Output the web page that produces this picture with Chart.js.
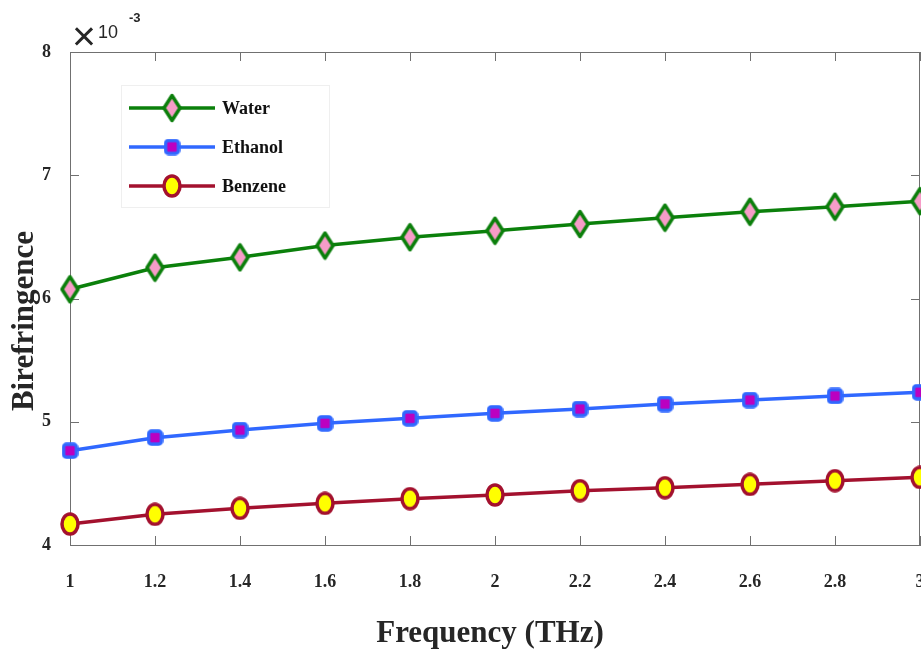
<!DOCTYPE html>
<html>
<head>
<meta charset="utf-8">
<script src="https://cdn.jsdelivr.net/npm/chart.js@4"></script>
<style>
    html, body { margin: 0; padding: 0; background: #fff; }
    #wrap { width: 921px; height: 651px; }
</style>
</head>
<body>
<div id="wrap"><canvas id="birefChart"></canvas></div>
<script>
// Birefringence values (x 10^-3) against frequency in THz
const frequency = [1, 1.2, 1.4, 1.6, 1.8, 2, 2.2, 2.4, 2.6, 2.8, 3];
const water   = [6.075, 6.25, 6.334, 6.43, 6.497, 6.55, 6.604, 6.656, 6.704, 6.745, 6.79];
const ethanol = [4.765, 4.871, 4.933, 4.987, 5.028, 5.068, 5.103, 5.144, 5.176, 5.209, 5.239];
const benzene = [4.17, 4.249, 4.298, 4.338, 4.376, 4.406, 4.441, 4.465, 4.492, 4.522, 4.549];
const seriesNames = ['Water', 'Ethanol', 'Benzene'];
const yTicks = [4, 5, 6, 7, 8];

const SERIF = '"Liberation Serif", "Times New Roman", serif';
const SANS = '"Liberation Sans", Arial, sans-serif';
const AXIS_GREY = '#707070';

// Small canvases used as point markers
function makeMarker(w, h, draw) {
    const c = document.createElement('canvas');
    c.width = w;
    c.height = h;
    draw(c.getContext('2d'), w, h);
    return c;
}

const diamond = makeMarker(21, 30, function (g, w, h) {
    g.beginPath();
    g.moveTo(w / 2, 2.5);
    g.lineTo(w - 2.5, h / 2);
    g.lineTo(w / 2, h - 2.5);
    g.lineTo(2.5, h / 2);
    g.closePath();
    g.fillStyle = '#f79cc8';
    g.fill();
    g.lineWidth = 3.5;
    g.lineJoin = 'round';
    g.strokeStyle = '#0b7f0b';
    g.stroke();
});

const square = makeMarker(17, 17, function (g, w, h) {
    g.beginPath();
    g.roundRect(2, 2, w - 4, h - 4, 3);
    g.fillStyle = '#bb00c0';
    g.fill();
    g.lineWidth = 3.5;
    g.strokeStyle = '#3068ff';
    g.stroke();
});

const circle = makeMarker(20, 24, function (g, w, h) {
    g.beginPath();
    g.ellipse(w / 2, h / 2, w / 2 - 2, h / 2 - 2, 0, 0, Math.PI * 2);
    g.fillStyle = '#ffff00';
    g.fill();
    g.lineWidth = 3.5;
    g.strokeStyle = '#a3112e';
    g.stroke();
});

const lineColors = ['#0b800b', '#3068ff', '#a3112e'];
const markers = [diamond, square, circle];

function toPoints(values) {
    return values.map(function (v, i) { return { x: frequency[i], y: v }; });
}

// Box, inward ticks on every side, axis titles, exponent and legend
const decorations = {
    id: 'decorations',
    beforeDatasetsDraw(chart) {
        const ctx = chart.ctx;
        const a = chart.chartArea;
        const xs = chart.scales.x;
        const ys = chart.scales.y;
        const tl = 9;
        ctx.save();
        ctx.strokeStyle = AXIS_GREY;
        ctx.lineWidth = 1;
        ctx.beginPath();
        ctx.rect(a.left + 0.5, a.top + 0.5, a.right - a.left - 1, a.bottom - a.top);
        xs.ticks.forEach(function (t) {
            const px = Math.round(xs.getPixelForValue(t.value)) + 0.5;
            ctx.moveTo(px, a.bottom);
            ctx.lineTo(px, a.bottom - tl);
            ctx.moveTo(px, a.top);
            ctx.lineTo(px, a.top + tl);
        });
        ys.ticks.forEach(function (t) {
            const py = Math.round(ys.getPixelForValue(t.value)) + 0.5;
            ctx.moveTo(a.left, py);
            ctx.lineTo(a.left + tl, py);
            ctx.moveTo(a.right, py);
            ctx.lineTo(a.right - tl, py);
        });
        ctx.stroke();
        ctx.restore();
    },
    afterDraw(chart) {
        const ctx = chart.ctx;
        ctx.save();
        ctx.fillStyle = '#262626';

        // x title
        ctx.font = 'bold 31px ' + SERIF;
        ctx.textAlign = 'center';
        ctx.textBaseline = 'alphabetic';
        ctx.fillText('Frequency (THz)', 490, 642);

        // y title
        ctx.save();
        ctx.translate(33, 321);
        ctx.rotate(-Math.PI / 2);
        ctx.fillText('Birefringence', 0, 0);
        ctx.restore();

        // exponent
        ctx.textAlign = 'left';
        ctx.font = '41px ' + SANS;
        ctx.fillText('\u00d7', 72, 50);
        ctx.font = '18px ' + SANS;
        ctx.fillText('10', 98, 38);
        ctx.font = 'bold 13px ' + SANS;
        ctx.fillText('-3', 129, 22);

        // legend
        ctx.fillStyle = '#ffffff';
        ctx.fillRect(121, 85, 209, 123);
        ctx.strokeStyle = '#efefef';
        ctx.lineWidth = 1;
        ctx.strokeRect(121.5, 85.5, 208, 122);
        const rows = [108, 147, 186];
        ctx.font = 'bold 18px ' + SERIF;
        ctx.textBaseline = 'middle';
        seriesNames.forEach(function (name, i) {
            const y = rows[i];
            ctx.strokeStyle = lineColors[i];
            ctx.lineWidth = 3.5;
            ctx.beginPath();
            ctx.moveTo(129, y);
            ctx.lineTo(215, y);
            ctx.stroke();
            const m = markers[i];
            ctx.drawImage(m, 172 - m.width / 2, y - m.height / 2);
            ctx.fillStyle = '#111';
            ctx.fillText(name, 222, y + 1);
        });
        ctx.restore();
    }
};

const datasets = [water, ethanol, benzene].map(function (values, i) {
    return {
        label: seriesNames[i],
        data: toPoints(values),
        borderColor: lineColors[i],
        borderWidth: 3.5,
        pointStyle: markers[i],
        pointRadius: 10,
        pointHoverRadius: 10,
        tension: 0,
        clip: false
    };
});

new Chart(document.getElementById('birefChart').getContext('2d'), {
    type: 'line',
    data: { datasets: datasets },
    options: {
        responsive: true,
        maintainAspectRatio: false,
        animation: false,
        events: [],
        layout: { autoPadding: false, padding: { top: 52, right: 1, left: 0, bottom: 0 } },
        plugins: {
            legend: { display: false },
            tooltip: { enabled: false }
        },
        scales: {
            x: {
                type: 'linear',
                min: 1,
                max: 3,
                grid: { display: false },
                border: { display: true, color: AXIS_GREY, width: 1 },
                ticks: {
                    stepSize: 0.2,
                    padding: 19,
                    color: '#262626',
                    font: { family: SERIF, size: 18, weight: 'bold' },
                    maxRotation: 0,
                    autoSkip: false,
                    callback: function (v) { return String(Number(v.toFixed(1))); }
                },
                afterFit: function (scale) {
                    scale.height = 106;
                    scale.paddingLeft = 0;
                    scale.paddingRight = 0;
                }
            },
            y: {
                min: yTicks[0],
                max: yTicks[yTicks.length - 1],
                grid: { display: false },
                border: { display: true, color: AXIS_GREY, width: 1 },
                afterBuildTicks: function (scale) {
                    scale.ticks = yTicks.map(function (v) { return { value: v }; });
                },
                ticks: {
                    padding: 11,
                    color: '#262626',
                    font: { family: SERIF, size: 18, weight: 'bold' }
                },
                afterFit: function (scale) {
                    scale.width = 70;
                    scale.paddingTop = 0;
                    scale.paddingBottom = 0;
                }
            }
        }
    },
    plugins: [decorations]
});
</script>
</body>
</html>
